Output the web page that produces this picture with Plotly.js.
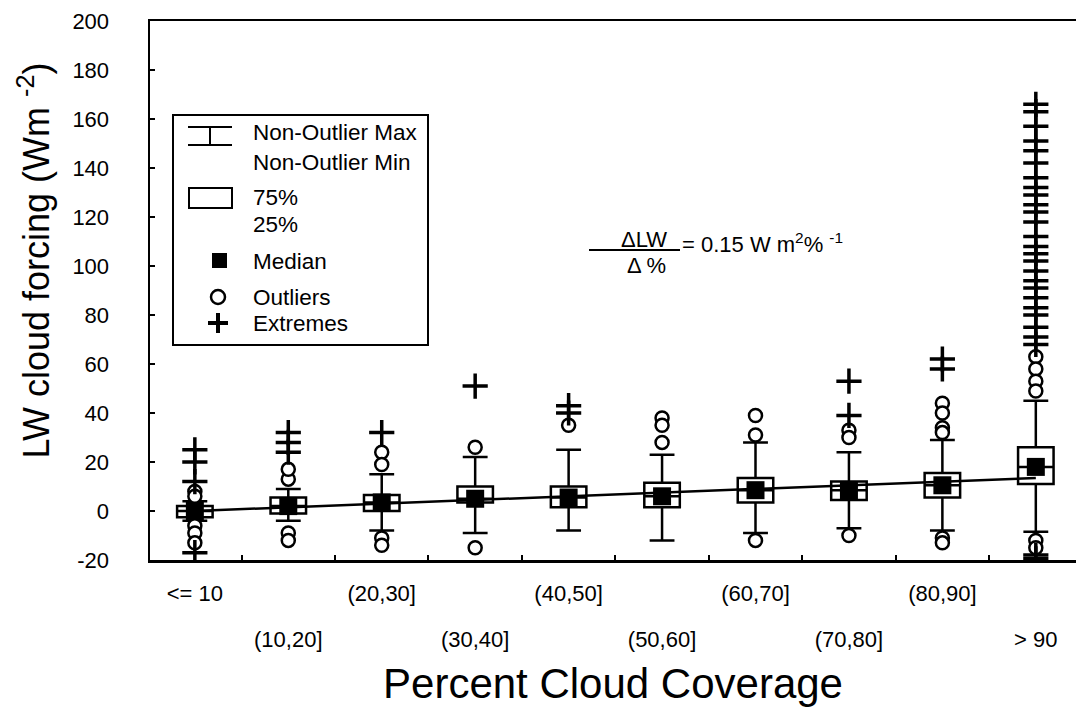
<!DOCTYPE html>
<html><head><meta charset="utf-8">
<script src="https://cdn.plot.ly/plotly-3.0.1.min.js"></script>
<style>html,body{margin:0;padding:0;background:#fff}#chart{width:1076px;height:710px}</style>
</head><body><div id="chart"></div>
<script>
// ---- data ----
const categories = ['<= 10', '(10,20]', '(20,30]', '(30,40]', '(40,50]', '(50,60]', '(60,70]', '(70,80]', '(80,90]', '> 90'];
const q25 = [-2.5, -1, 0, 3.5, 1.5, 1.5, 3.5, 4.5, 5.5, 11];
const medians = [0, 2, 3.5, 5, 5.5, 6, 8.5, 8.5, 10.5, 18];
const q75 = [2, 5.5, 6.5, 10, 10, 11.5, 13.5, 12, 15.5, 26];
const nonOutlierMin = [-4, -4, -8, -9, -8, -12, -9, -7, -8, -8.5];
const nonOutlierMax = [4, 9, 15, 22, 25, 23, 28, 24, 29, 45];
const outliers = [
  [8, 6, -6, -9, -13],
  [13, 17, -9, -12],
  [24, 19, -11, -14],
  [26, -15],
  [35],
  [38, 35, 28],
  [39, 31, -12],
  [33, 30, -10],
  [44, 40, 34, 32, -11, -13],
  [63, 58, 53, 49, -12, -15]
];
const extremes = [
  [25, 20, 12, -17],
  [32, 28, 24],
  [32],
  [51],
  [43, 40],
  [],
  [],
  [53, 39],
  [62, 58],
  [166, 163, 157, 151, 147, 142, 136, 132, 129, 125, 122, 118, 112, 108, 105, 102, 98, 94, 91, 87, 83, 80, 75, 71, 68, -18, -19.5]
];
const fitCats = [0, 9];          // regression line: first and last category
const fitValues = [0, 13.5];
const yTicks = [-20, 0, 20, 40, 60, 80, 100, 120, 140, 160, 180, 200];
const yTickText = ['-20', '0', '20', '40', '60', '80', '100', '120', '140', '160', '180', '200'];

// ---- build traces ----
const idx = categories.map((c, i) => i);
const evenIdx = idx.filter(i => i % 2 === 0);
const oddIdx = idx.filter(i => i % 2 === 1);

function flatten(groups) {
  const xs = [], ys = [];
  groups.forEach((g, i) => g.forEach(v => { xs.push(i); ys.push(v); }));
  return {xs, ys};
}
const out = flatten(outliers);
const ext = flatten(extremes);

const FONT = 'Arial, "Liberation Sans", Helvetica, sans-serif';

const traces = [
  {
    type: 'box', x: idx, q1: q25, median: medians, q3: q75,
    lowerfence: nonOutlierMin, upperfence: nonOutlierMax,
    width: 0.38, whiskerwidth: 0.7, boxpoints: false,
    fillcolor: '#ffffff', line: {color: '#000', width: 2.5},
    hoverinfo: 'skip', showlegend: false
  },
  {
    type: 'scatter', mode: 'lines', x: fitCats, y: fitValues,
    line: {color: '#000', width: 2.5}, hoverinfo: 'skip', showlegend: false
  },
  {
    type: 'scatter', mode: 'markers', x: out.xs, y: out.ys,
    marker: {symbol: 'circle', size: 13, color: '#fff', line: {color: '#000', width: 2.5}},
    hoverinfo: 'skip', showlegend: false
  },
  {
    type: 'scatter', mode: 'markers', x: ext.xs, y: ext.ys,
    marker: {symbol: 'cross-thin-open', size: 18, color: '#000', line: {color: '#000', width: 3.5}},
    hoverinfo: 'skip', showlegend: false
  },
  {
    type: 'scatter', mode: 'markers', x: idx, y: medians,
    marker: {symbol: 'square', size: 18, color: '#000', line: {width: 0}},
    hoverinfo: 'skip', showlegend: false
  },
  { // carrier for the upper row of category labels
    type: 'scatter', mode: 'markers', x: idx, y: medians, xaxis: 'x2',
    marker: {opacity: 0, size: 1}, hoverinfo: 'skip', showlegend: false
  }
];

// ---- layout helpers (pixel -> paper) for the legend box and the formula ----
const PL = 150, PR = 1076, PT = 21, PB = 560;
const px = x => (x - PL) / (PR - PL);
const py = y => (PB - y) / (PB - PT);
const line = (x0, y0, x1, y1, w) => ({type: 'line', xref: 'paper', yref: 'paper',
  x0: px(x0), y0: py(y0), x1: px(x1), y1: py(y1), line: {color: '#000', width: w}});

const shapes = [
  {type: 'rect', xref: 'paper', yref: 'paper', x0: px(173), x1: px(428), y0: py(345), y1: py(115),
    line: {color: '#000', width: 2}, fillcolor: '#fff', layer: 'below'},
  line(188, 127, 232, 127, 2), line(188, 145, 232, 145, 2), line(210, 127, 210, 145, 2),
  {type: 'rect', xref: 'paper', yref: 'paper', x0: px(189), x1: px(232), y0: py(208), y1: py(188),
    line: {color: '#000', width: 2}},
  {type: 'rect', xref: 'paper', yref: 'paper', x0: px(212), x1: px(227), y0: py(268), y1: py(253),
    line: {width: 0}, fillcolor: '#000'},
  {type: 'circle', xref: 'paper', yref: 'paper', x0: px(211), x1: px(225), y0: py(304), y1: py(290),
    line: {color: '#000', width: 2.5}},
  line(208, 323, 228, 323, 4), line(218, 313, 218, 333, 4),
  line(589, 250, 680, 250, 2)
];

const legendText = [
  ['Non-Outlier Max', 132], ['Non-Outlier Min', 162], ['75%', 198], ['25%', 224],
  ['Median', 261], ['Outliers', 297], ['Extremes', 323]
];
const annotations = legendText.map(([t, y]) => ({
  xref: 'paper', yref: 'paper', x: px(251), y: py(y), xanchor: 'left', yanchor: 'middle',
  text: t, showarrow: false, font: {family: FONT, size: 22.5, color: '#000'}
}));
annotations.push(
  {xref: 'paper', yref: 'paper', x: px(644), y: py(239), xanchor: 'center', yanchor: 'middle',
    text: 'ΔLW', showarrow: false, font: {family: FONT, size: 22, color: '#000'}},
  {xref: 'paper', yref: 'paper', x: px(646), y: py(265), xanchor: 'center', yanchor: 'middle',
    text: 'Δ %', showarrow: false, font: {family: FONT, size: 22, color: '#000'}},
  {xref: 'paper', yref: 'paper', x: px(680), y: py(243), xanchor: 'left', yanchor: 'middle',
    text: '= 0.15 W m<sup>2</sup>% <sup>-1</sup>', showarrow: false, font: {family: FONT, size: 22, color: '#000'}}
);

const layout = {
  width: 1076, height: 710,
  margin: {l: PL, r: 1076 - PR, t: PT, b: 710 - PB, pad: 0},
  paper_bgcolor: '#fff', plot_bgcolor: '#fff',
  font: {family: FONT, color: '#000'},
  showlegend: false,
  xaxis: {
    range: [-0.48, 9.43], showgrid: false, zeroline: false,
    showline: true, mirror: true, linecolor: '#000', linewidth: 2.5,
    tickmode: 'array', tickvals: oddIdx, ticktext: oddIdx.map(i => categories[i]),
    ticks: '', ticklabelstandoff: 58, tickfont: {family: FONT, size: 22, color: '#000'},
    minor: {ticks: 'inside', tick0: 0.5, dtick: 1, ticklen: 5, tickwidth: 2, tickcolor: '#000', showgrid: false},
    title: {text: 'Percent Cloud Coverage', font: {family: FONT, size: 42, color: '#000'}, standoff: 18},
    fixedrange: true
  },
  xaxis2: {
    overlaying: 'x', matches: 'x', anchor: 'y', side: 'bottom',
    showgrid: false, zeroline: false, showline: false,
    tickmode: 'array', tickvals: evenIdx, ticktext: evenIdx.map(i => categories[i]),
    ticks: '', ticklabelstandoff: 18, tickfont: {family: FONT, size: 22, color: '#000'},
    fixedrange: true
  },
  yaxis: {
    range: [-20, 200], showgrid: false, zeroline: false,
    showline: true, linecolor: '#000', linewidth: 2.5,
    tickmode: 'array', tickvals: yTicks, ticktext: yTickText,
    ticks: 'inside', ticklen: 5, tickwidth: 2, tickcolor: '#000',
    ticklabelstandoff: 34, tickfont: {family: FONT, size: 22, color: '#000'},
    title: {text: '&nbsp;&nbsp;&nbsp;&nbsp;&nbsp;&nbsp;LW cloud forcing (Wm <sup>-2</sup>)', font: {family: FONT, size: 36, color: '#000'}, standoff: 12},
    fixedrange: true
  },
  shapes, annotations
};

Plotly.newPlot('chart', traces, layout, {staticPlot: true, displayModeBar: false});
</script>
</body></html>
